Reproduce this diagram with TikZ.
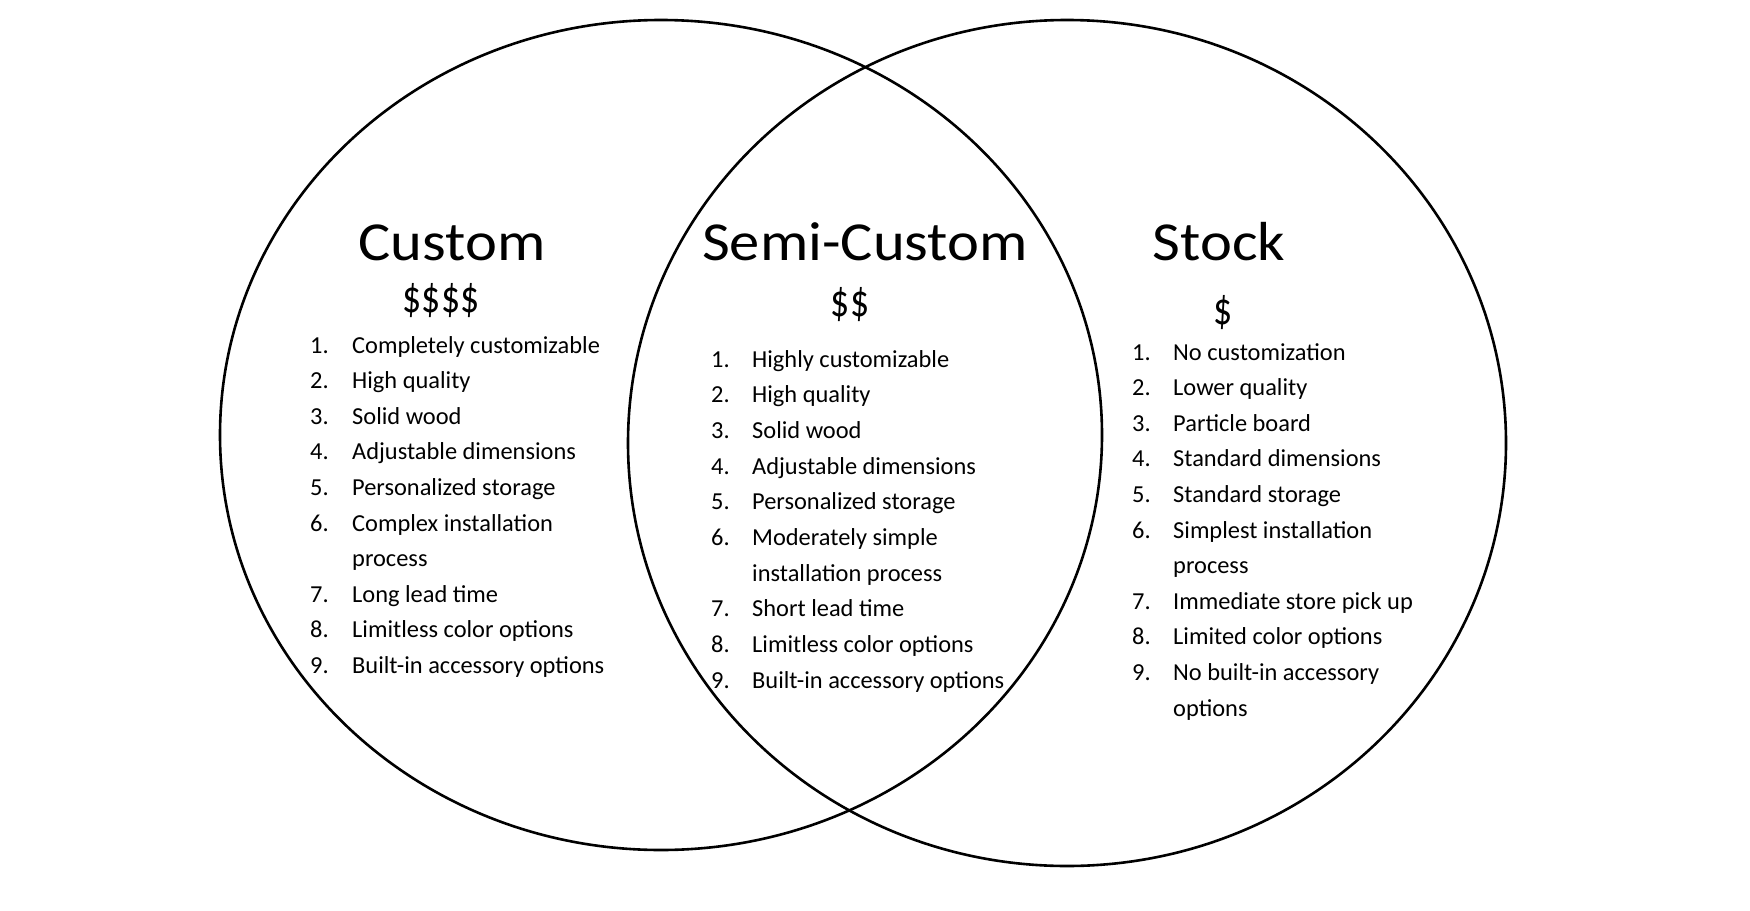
\documentclass[tikz,border=0pt]{standalone}
\usepackage{fontspec}
\setmainfont{Carlito}
\newfontfamily\titlefont[FakeStretch=1.1]{Carlito}
\newfontfamily\pricefont[FakeStretch=0.82]{Carlito}
\begin{document}
\begin{tikzpicture}[x=1pt,y=-1pt,
  ring/.style={draw=black,line width=2.6pt},
  title/.style={anchor=base,font=\titlefont\fontsize{55}{55}\selectfont,inner sep=0pt},
  price/.style={anchor=center,font=\pricefont\fontsize{46}{46}\selectfont,inner sep=0pt},
  num/.style={anchor=base west,font=\fontsize{24.4}{24.4}\selectfont,inner sep=0pt},
  item/.style={anchor=base west,font=\fontsize{24.4}{24.4}\selectfont,inner sep=0pt}]
\useasboundingbox (0,0) rectangle (1750,910);
\path[ring] (661,435) ellipse [x radius=441pt, y radius=415pt];
\path[ring] (1067,443) ellipse [x radius=439pt, y radius=423pt];
% Custom
\node[title] (tc) at (452,260) {Custom};
\node[price] (pc) at (441,301) {\$\$\$\$};
\foreach \n/\t/\y [count=\i] in {1./Completely customizable/0,2./High quality/1,3./Solid wood/2,4./Adjustable dimensions/3,5./Personalized storage/4,6./Complex installation/5,/process/6,7./Long lead time/7,8./Limitless color options/8,9./Built-in accessory options/9}{
  \node[num] (cn\i) at (310,353+35.6*\y) {\n};
  \node[item] (ci\i) at (352,353+35.6*\y) {\t};
}
% Semi-Custom
\node[title] (ts) at (865,260) {Semi-Custom};
\node[price] (ps) at (850,305) {\$\$};
\foreach \n/\t/\y [count=\i] in {1./Highly customizable/0,2./High quality/1,3./Solid wood/2,4./Adjustable dimensions/3,5./Personalized storage/4,6./Moderately simple/5,/installation process/6,7./Short lead time/7,8./Limitless color options/8,9./Built-in accessory options/9}{
  \node[num] (sn\i) at (711,367+35.7*\y) {\n};
  \node[item] (si\i) at (752,367+35.7*\y) {\t};
}
% Stock
\node[title] (tk) at (1219,260) {Stock};
\node[price] (pk) at (1223,313) {\$};
\foreach \n/\t/\y [count=\i] in {1./No customization/0,2./Lower quality/1,3./Particle board/2,4./Standard dimensions/3,5./Standard storage/4,6./Simplest installation/5,/process/6,7./Immediate store pick up/7,8./Limited color options/8,9./No built-in accessory/9,/options/10}{
  \node[num] (kn\i) at (1132,360+35.6*\y) {\n};
  \node[item] (ki\i) at (1173,360+35.6*\y) {\t};
}
\end{tikzpicture}
\end{document}
